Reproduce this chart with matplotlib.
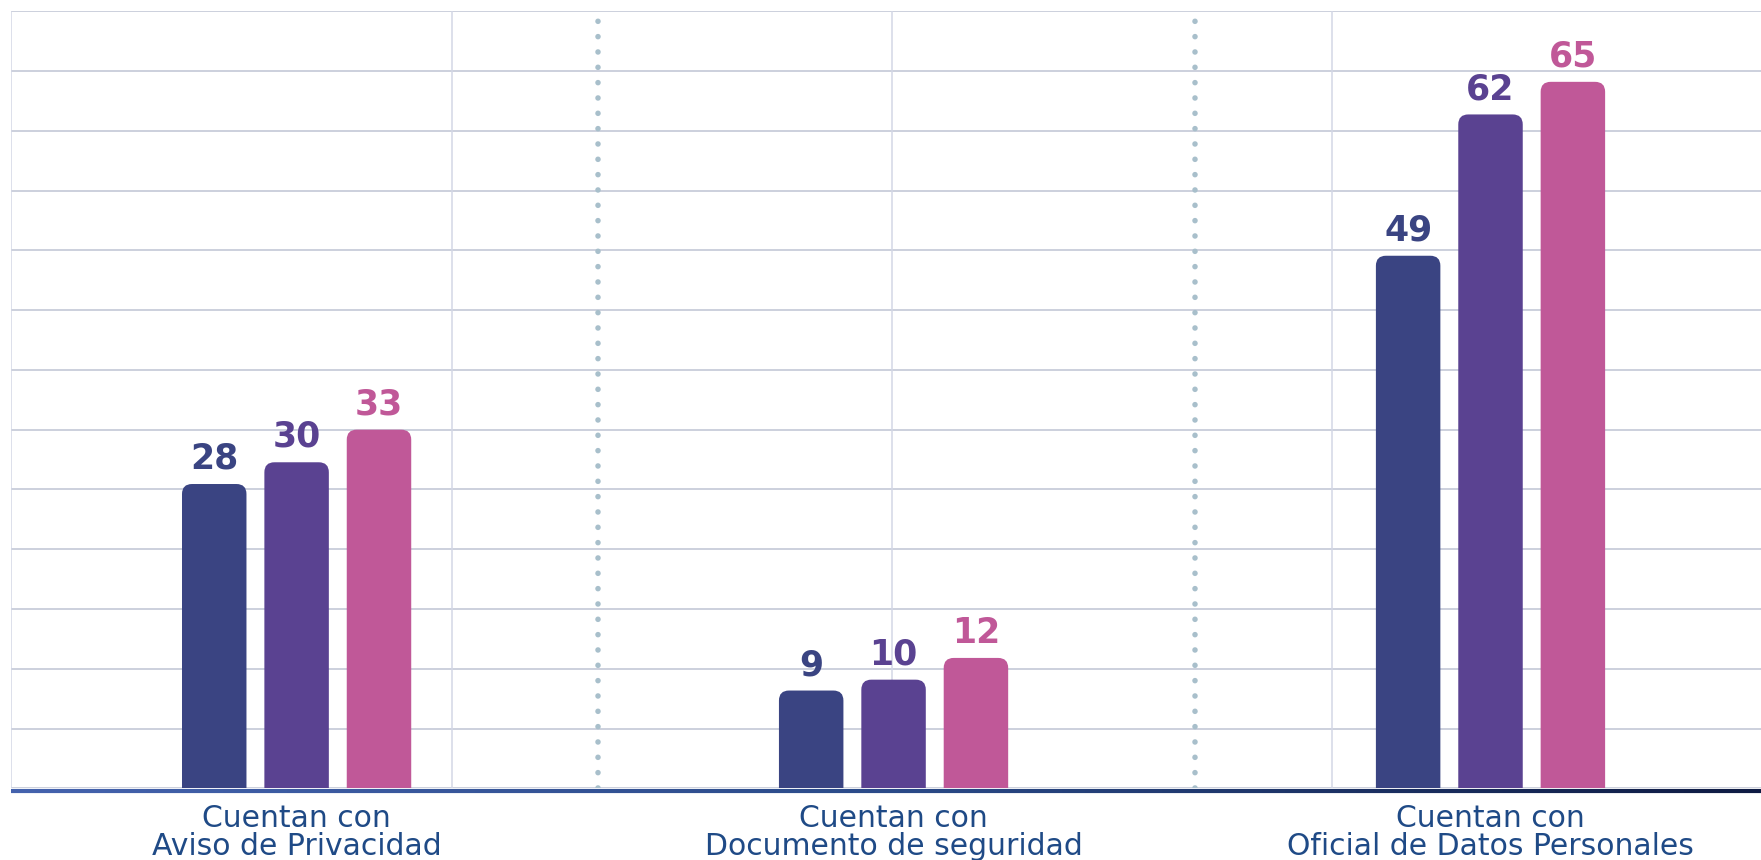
import numpy as np
import matplotlib
matplotlib.use("Agg")
import matplotlib.pyplot as plt
from matplotlib.patches import FancyBboxPatch
from matplotlib.collections import LineCollection
from matplotlib.colors import LinearSegmentedColormap

# ---- data ----
categories = ["Cuentan con\nAviso de Privacidad",
              "Cuentan con\nDocumento de seguridad",
              "Cuentan con\nOficial de Datos Personales"]
serie_a = [28, 9, 49]
serie_b = [30, 10, 62]
serie_c = [33, 12, 65]
series = [serie_a, serie_b, serie_c]
colors = ["#3a4482", "#5a4291", "#c05898"]

W, H, DPI = 1761, 860, 100
fig = plt.figure(figsize=(W / DPI, H / DPI), dpi=DPI)
ax_left, ax_bottom, ax_w, ax_h = 0.0064, 0.0833, 1.0, 0.9037
ax = fig.add_axes([ax_left, ax_bottom, ax_w, ax_h])

ymax = 71.5
xlim = (-0.478, 2.472)
ax.set_xlim(*xlim)
ax.set_ylim(0, ymax)

# grid
for yv in np.arange(0, ymax + 0.01, 5.5):
    ax.axhline(yv, color="#bfc3d3", lw=1.1, zorder=0)
for xf in [0, 0.25, 0.5, 0.75, 1.0]:
    ax.axvline(xlim[0] + xf * (xlim[1] - xlim[0]), color="#d3d7e6", lw=1.1, zorder=0)
for xs in [0.505, 1.505]:
    ax.plot([xs, xs], [0, ymax], color="#a8bfcb", lw=4.0,
            linestyle=(0, (0.01, 2.75)), dash_capstyle="round", zorder=1)

for s in ax.spines.values():
    s.set_visible(False)

# bars
bar_w = 0.108
offset = 0.138
x = np.arange(len(categories))
px_x = W * ax_w / (xlim[1] - xlim[0])
px_y = H * ax_h / ymax
aspect = px_x / px_y
r = 10 / px_x
for i, (vals, col) in enumerate(zip(series, colors)):
    xs = x + (i - 1) * offset
    bars = ax.bar(xs, vals, width=bar_w, color=col, zorder=2)
    for b, v in zip(bars, vals):
        b.set_visible(False)
        p = FancyBboxPatch((b.get_x(), -5), b.get_width(), b.get_height() + 5,
                           boxstyle=f"round,pad=0,rounding_size={r}",
                           mutation_aspect=aspect, facecolor=col,
                           edgecolor="none", zorder=3)
        ax.add_patch(p)
        ax.annotate(str(v), (b.get_x() + b.get_width() / 2, v),
                    xytext=(0, 11), textcoords="offset points",
                    ha="center", va="baseline", fontsize=25,
                    fontweight="bold", color=col, zorder=4)

# baseline gradient
cmap = LinearSegmentedColormap.from_list("bl", ["#4462ad", "#2a4a88", "#0e1a42"])
n = 300
xx = np.linspace(0, 1, n + 1)
segs = [[(xx[k], -0.004), (xx[k + 1], -0.004)] for k in range(n)]
lc = LineCollection(segs, colors=cmap(np.linspace(0, 1, n)), linewidths=3,
                    transform=ax.transAxes, clip_on=False, zorder=5)
ax.add_collection(lc)

ax.set_yticks([])
ax.set_xticks(x)
ax.set_xticklabels(categories, fontsize=21.5, color="#1f4a86")
for lab in ax.get_xticklabels():
    lab.set_linespacing(0.93)
ax.tick_params(axis="x", length=0, pad=11.5)

fig.savefig("out.png", dpi=DPI)
